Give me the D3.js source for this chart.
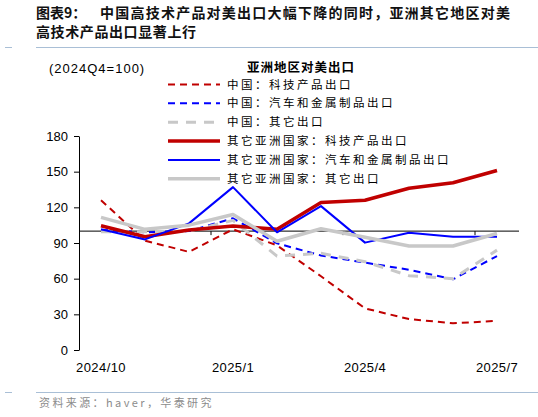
<!DOCTYPE html>
<html>
<head>
<meta charset="utf-8">
<script src="https://cdn.jsdelivr.net/npm/d3@7"></script>
<style>
  body { margin: 0; background: #fff; }
  svg { display: block; }
</style>
</head>
<body>
<div id="chart"></div>
<script>
// months on the x axis and the ticks that get a label
const months = ["2024/10", "2024/11", "2024/12", "2025/1", "2025/2", "2025/3",
                "2025/4", "2025/5", "2025/6", "2025/7"];
const monthLabels = ["2024/10", "2025/1", "2025/4", "2025/7"];
const yTicks = [0, 30, 60, 90, 120, 150, 180];

// China exports to the US (2024Q4=100)
const cnTech = [126, 92, 82.5, 101.5, 88, 62, 35, 26, 22.5, 24.5];
const cnAutoMetal = [101, 99, 100, 110.8, 89.7, 79.5, 73.5, 67.5, 59.5, 79];
const cnOther = [99.5, 99.5, 100, 109, 79, 81.3, 74.3, 62.5, 60, 84];
// other Asian economies exports to the US
const asTech = [104.5, 95.3, 101, 104.3, 101.5, 124, 126, 136, 140.7, 151];
const asAutoMetal = [101.5, 93, 106.5, 137, 99, 121, 90.3, 98.7, 95.3, 95.3];
const asOther = [111.6, 101.5, 105, 114, 91.5, 102, 94.8, 87.5, 87.5, 98];

const seriesNames = ["中国：科技产品出口", "中国：汽车和金属制品出口", "中国：其它出口",
                     "其它亚洲国家：科技产品出口", "其它亚洲国家：汽车和金属制品出口", "其它亚洲国家：其它出口"];

var W = 538, H = 417;
var red = "#C00000", blue = "#0000FF", grey = "#C8C8C8";
var styles = [
  {c: red, w: 2, dash: "7,5"},
  {c: blue, w: 2, dash: "7,5"},
  {c: grey, w: 3, dash: "10,8"},
  {c: red, w: 3.5, dash: null},
  {c: blue, w: 2, dash: null},
  {c: grey, w: 3.5, dash: null}
];
var series = [cnTech, cnAutoMetal, cnOther, asTech, asAutoMetal, asOther].map(function (v, i) {
  return {name: seriesNames[i], values: v, s: styles[i]};
});

var svg = d3.select("#chart").append("svg")
  .attr("width", W).attr("height", H);

var cjk = "'Noto Sans CJK SC', sans-serif";
var latin = "'Liberation Sans', Arial, sans-serif";

// title
svg.append("text").attr("x", 36).attr("y", 18)
  .style("font-family", cjk).style("font-size", "14px").style("font-weight", "bold").style("fill", "#111")
  .text("图表9：");
svg.append("text").attr("x", 100).attr("y", 18)
  .attr("textLength", 410).attr("lengthAdjust", "spacing")
  .style("font-family", cjk).style("font-size", "14px").style("font-weight", "bold").style("fill", "#111")
  .text("中国高技术产品对美出口大幅下降的同时，亚洲其它地区对美");
svg.append("text").attr("x", 36).attr("y", 37)
  .style("font-family", cjk).style("font-size", "14px").style("font-weight", "bold").style("fill", "#111")
  .style("letter-spacing", "0.6px")
  .text("高技术产品出口显著上行");

// header / footer rules
[47.5, 392.5].forEach(function (yy) {
  svg.append("line").attr("x1", 5).attr("x2", 12).attr("y1", yy).attr("y2", yy)
    .attr("stroke", "#A9BFD6").attr("stroke-width", 1);
  svg.append("line").attr("x1", 36).attr("x2", W).attr("y1", yy).attr("y2", yy)
    .attr("stroke", "#A9BFD6").attr("stroke-width", 1);
});

svg.append("text").attr("x", 39).attr("y", 407)
  .style("font-family", cjk).style("font-size", "11px").style("fill", "#8c8c8c")
  .style("letter-spacing", "2.4px")
  .text("资料来源：haver，华泰研究");

svg.append("text").attr("x", 49).attr("y", 73)
  .style("font-family", latin).style("font-size", "13px").style("fill", "#000")
  .style("letter-spacing", "1px")
  .text("(2024Q4=100)");

// scales
var x = d3.scaleBand().domain(months).range([79, 519]).padding(0);
var y = d3.scaleLinear().domain([0, 180]).range([350, 136]);
var cx = function (i) { return x(months[i]) + x.bandwidth() / 2; };

// y axis
var gy = svg.append("g").attr("transform", "translate(79,0)")
  .call(d3.axisLeft(y).tickValues(yTicks).tickSize(5).tickPadding(6).tickSizeOuter(0));
gy.select(".domain").attr("stroke", "#000");
gy.selectAll("text").style("font-family", latin).style("font-size", "13px").style("fill", "#000");

// x labels (no axis line at the bottom)
var gx = svg.append("g").attr("transform", "translate(0,350)")
  .call(d3.axisBottom(x).tickValues(monthLabels).tickSize(0).tickPadding(13));
gx.select(".domain").remove();
gx.selectAll("text").style("font-family", latin).style("font-size", "13px").style("fill", "#000")
  .style("letter-spacing", "0.4px");

// reference line at 100 with quarter ticks
svg.append("line").attr("x1", 79).attr("x2", 519)
  .attr("y1", y(100)).attr("y2", y(100)).attr("stroke", "#000").attr("stroke-width", 1);
svg.selectAll(".qtick").data(monthLabels.slice(1)).enter().append("line")
  .attr("class", "qtick")
  .attr("x1", function (d) { return x(d); }).attr("x2", function (d) { return x(d); })
  .attr("y1", y(100)).attr("y2", y(100) + 4)
  .attr("stroke", "#000").attr("stroke-width", 1);

// series lines
var line = d3.line().x(function (d, i) { return cx(i); }).y(function (d) { return y(d); });
svg.selectAll(".series").data(series).enter().append("path")
  .attr("class", "series")
  .attr("d", function (d) { return line(d.values); })
  .attr("fill", "none")
  .attr("stroke", function (d) { return d.s.c; })
  .attr("stroke-width", function (d) { return d.s.w; })
  .attr("stroke-dasharray", function (d) { return d.s.dash; })
  .attr("stroke-linejoin", "round");

// legend
svg.append("text").attr("x", 301).attr("y", 72).attr("text-anchor", "middle")
  .style("font-family", cjk).style("font-size", "12.5px").style("font-weight", "bold")
  .style("letter-spacing", "1px").style("fill", "#000")
  .text("亚洲地区对美出口");
var lg = svg.selectAll(".lg").data(series).enter().append("g")
  .attr("class", "lg")
  .attr("transform", function (d, i) { return "translate(0," + (84.5 + i * 18.85) + ")"; });
lg.append("line").attr("x1", 168).attr("x2", 220)
  .attr("stroke", function (d) { return d.s.c; })
  .attr("stroke-width", function (d) { return d.s.w; })
  .attr("stroke-dasharray", function (d) { return d.s.dash; });
lg.append("text").attr("x", 227).attr("y", 4)
  .style("font-family", cjk).style("font-size", "11.5px").style("fill", "#000")
  .style("letter-spacing", "2.5px")
  .text(function (d) { return d.name; });
</script>
</body>
</html>
